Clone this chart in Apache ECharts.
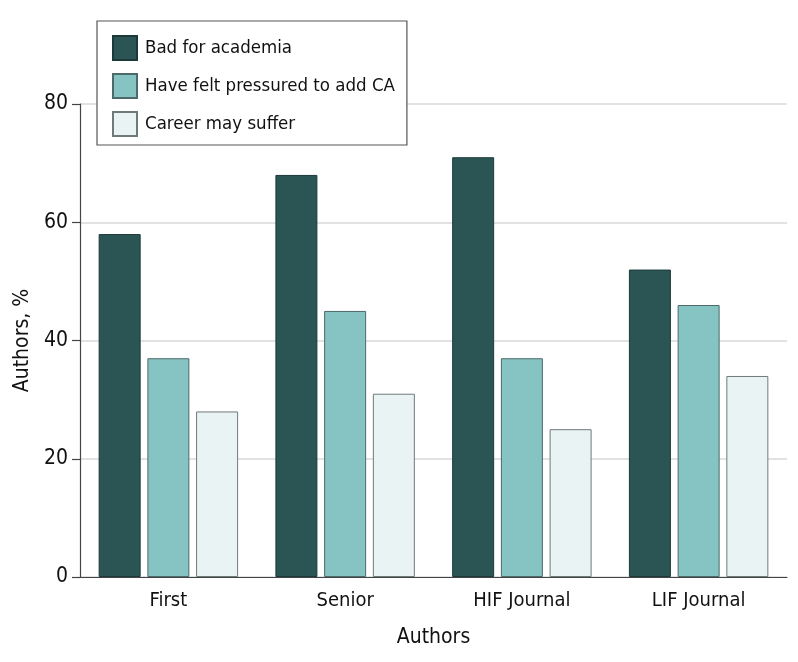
<!DOCTYPE html>
<html><head><meta charset="utf-8">
<script src="https://cdn.jsdelivr.net/npm/echarts@6/dist/echarts.min.js"></script>
<style>html,body{margin:0;padding:0;background:#fff}#c{width:798px;height:662px}</style>
</head><body><div id="c"></div>
<script>
const categories = ['First', 'Senior', 'HIF Journal', 'LIF Journal'];
const seriesNames = ['Bad for academia', 'Have felt pressured to add CA', 'Career may suffer'];
const badForAcademia = [58, 68, 71, 52];
const feltPressured = [37, 45, 37, 46];
const careerMaySuffer = [28, 31, 25, 34];
const yTicks = [0, 20, 40, 60, 80];

const FONT = "'Liberation Sans Narrow', 'DejaVu Sans Condensed', 'Liberation Sans', sans-serif";
const colors = ['#2b5454', '#86c3c3', '#e9f3f4'];
const borders = ['#1d3a3a', '#4d6a6a', '#6f7a7a'];
const values = [badForAcademia, feltPressured, careerMaySuffer];

const chart = echarts.init(document.getElementById('c'));
chart.setOption({
  animation: false,
  textStyle: { fontFamily: FONT },
  grid: { left: 80, right: 11, top: 104, bottom: 85, containLabel: false },
  legend: {
    orient: 'vertical', left: 97, top: 21,
    padding: [14, 12, 8, 15],
    itemWidth: 24, itemHeight: 24, itemGap: 12,
    borderColor: '#555', borderWidth: 1.2, backgroundColor: '#fff',
    icon: 'rect',
    textStyle: { fontFamily: FONT, fontSize: 18.5, lineHeight: 24, color: '#111', padding: [0, 0, 0, 3] },
    data: seriesNames
  },
  xAxis: {
    type: 'category', data: categories,
    name: 'Authors', nameLocation: 'middle', nameGap: 50,
    nameTextStyle: { fontFamily: FONT, fontSize: 21, color: '#111' },
    axisLine: { lineStyle: { color: '#444', width: 1.2 } },
    axisTick: { show: false },
    axisLabel: { fontFamily: FONT, fontSize: 20, color: '#111', margin: 14 }
  },
  yAxis: {
    type: 'value', min: 0, max: 80, interval: 20,
    name: 'Authors, %', nameLocation: 'middle', nameGap: 47,
    nameTextStyle: { fontFamily: FONT, fontSize: 21, color: '#111' },
    axisLine: { show: true, lineStyle: { color: '#444', width: 1.2 } },
    axisTick: { show: true, length: 8, lineStyle: { color: '#444', width: 1.2 } },
    axisLabel: { fontFamily: FONT, fontSize: 21, color: '#111', margin: 12,
      formatter: v => yTicks.includes(v) ? String(v) : '' },
    splitLine: { lineStyle: { color: '#d9d9d9', width: 1.5 } }
  },
  series: seriesNames.map((n, i) => ({
    name: n, type: 'bar', data: values[i],
    barWidth: 42, barGap: '16%',
    itemStyle: { color: colors[i], borderColor: borders[i], borderWidth: 1 }
  }))
});
</script></body></html>
